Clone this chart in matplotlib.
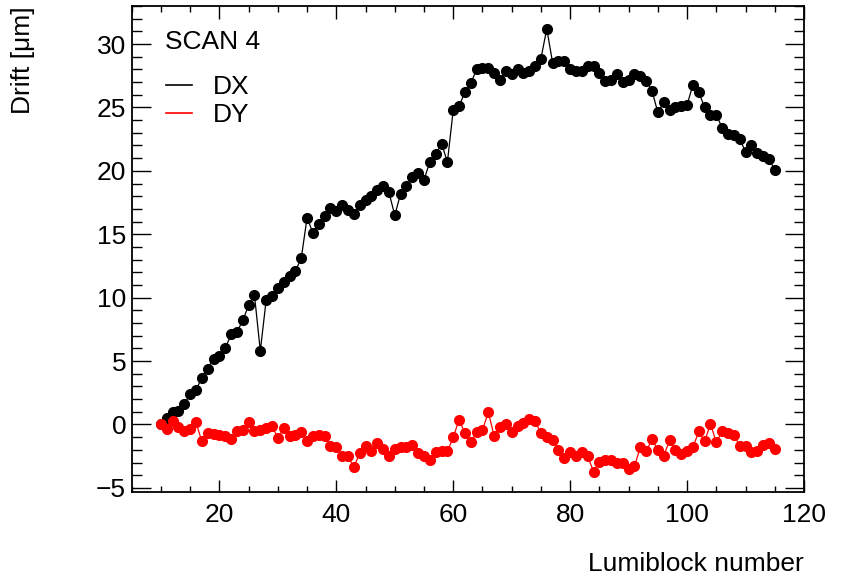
import numpy as np
import matplotlib
matplotlib.use("Agg")
import matplotlib.pyplot as plt
from matplotlib.lines import Line2D
from matplotlib.ticker import MultipleLocator

plt.rcParams['font.family'] = ['Liberation Sans', 'DejaVu Sans']

lumiblock = list(range(10, 116))

dx = [0.0, 0.5, 1.0, 1.1, 1.6, 2.4, 2.7, 3.7, 4.4, 5.2,
      5.4, 6.0, 7.1, 7.3, 8.2, 9.4, 10.2, 5.8, 9.8, 10.1,
      10.8, 11.2, 11.7, 12.1, 13.1, 16.3, 15.1, 15.8, 16.4, 17.1,
      16.8, 17.3, 16.95, 16.6, 17.3, 17.7, 18.05, 18.5, 18.8, 18.3,
      16.5, 18.2, 18.8, 19.5, 19.8, 19.3, 20.7, 21.3, 22.15, 20.7,
      24.8, 25.1, 26.2, 26.9, 28.0, 28.1, 28.1, 27.7, 27.2, 27.9,
      27.6, 28.0, 27.7, 27.9, 28.3, 28.85, 31.2, 28.5, 28.65, 28.65,
      28.0, 27.9, 27.9, 28.3, 28.3, 27.7, 27.1, 27.2, 27.6, 27.0,
      27.2, 27.6, 27.5, 27.1, 26.3, 24.6, 25.4, 24.8, 25.0, 25.1,
      25.2, 26.8, 26.2, 25.0, 24.4, 24.4, 23.4, 22.9, 22.8, 22.5,
      21.5, 22.0, 21.4, 21.2, 20.9, 20.1]

dy = [0.03, -0.37, 0.24, -0.2, -0.55, -0.37, 0.16, -1.34, -0.68, -0.73,
      -0.81, -0.89, -1.15, -0.55, -0.42, 0.16, -0.55, -0.42, -0.29, -0.1,
      -1.08, -0.29, -0.94, -0.81, -0.63, -1.34, -0.94, -0.81, -0.94, -1.68,
      -1.79, -2.47, -2.52, -3.37, -2.26, -1.68, -2.13, -1.47, -1.94, -2.52,
      -1.94, -1.79, -1.74, -1.6, -2.26, -2.52, -2.79, -2.21, -2.13, -2.13,
      -1.0, 0.37, -0.68, -1.42, -0.63, -0.42, 0.95, -0.89, -0.2, 0.05,
      -0.63, -0.15, 0.1, 0.42, 0.24, -0.68, -1.0, -1.26, -2.0, -2.66,
      -2.2, -2.52, -2.2, -2.52, -3.71, -2.92, -2.79, -2.79, -3.0, -3.05,
      -3.53, -3.3, -1.79, -2.13, -1.16, -2.0, -2.47, -1.26, -2.0, -2.31,
      -2.13, -1.79, -0.55, -1.34, 0.05, -1.42, -0.55, -0.68, -0.81, -1.68,
      -1.68, -2.21, -2.13, -1.6, -1.47, -1.94]

title_text = "SCAN 4"
labels = ["DX", "DY"]
colors = ["black", "#ff0000"]

fig = plt.figure(figsize=(8.42, 5.79), dpi=100)
ax = fig.add_axes([0.1564, 0.1508, 0.7985, 0.8389])

ax.plot(lumiblock, dx, color=colors[0], lw=0.9, marker='o', ms=7, mec=colors[0], mfc=colors[0])
ax.plot(lumiblock, dy, color=colors[1], lw=0.9, marker='o', ms=7, mec=colors[1], mfc=colors[1])

ax.set_xlim(5, 120)
ax.set_ylim(-5.3, 33.0)

ax.xaxis.set_major_locator(MultipleLocator(20))
ax.xaxis.set_minor_locator(MultipleLocator(5))
ax.yaxis.set_major_locator(MultipleLocator(5))
ax.yaxis.set_minor_locator(MultipleLocator(1))

ax.tick_params(axis='both', which='both', direction='in', top=True, right=True,
               labelsize=19, width=1.0)
ax.tick_params(axis='x', which='major', length=9, pad=8)
ax.tick_params(axis='x', which='minor', length=4.5)
ax.tick_params(axis='y', which='major', length=14, pad=4)
ax.tick_params(axis='y', which='minor', length=7)
for s in ax.spines.values():
    s.set_linewidth(1.3)

ax.set_xlabel("Lumiblock number", fontsize=19, loc='right', labelpad=18)
ax.set_ylabel("Drift [μm]", fontsize=19, loc='top', labelpad=44)

ax.text(0.05, 0.926, title_text, transform=ax.transAxes, fontsize=19,
        ha='left', va='center')

handles = [Line2D([], [], color=c, lw=1.2) for c in colors]
ax.legend(handles, labels, loc='upper left', bbox_to_anchor=(0.035, 0.88),
          frameon=False, fontsize=19, handlelength=1.0, handletextpad=0.8,
          labelspacing=0.15, borderaxespad=0.0)

fig.savefig("out.png", dpi=100)
